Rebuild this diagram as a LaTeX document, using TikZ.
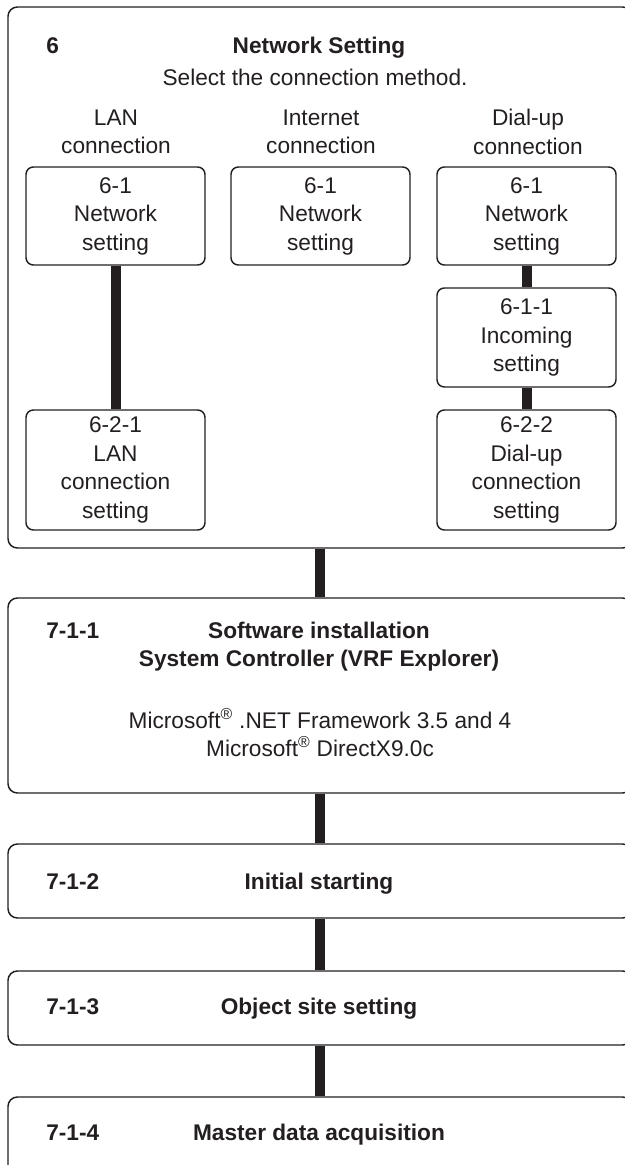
\documentclass[tikz,border=0pt]{standalone}
\usepackage{fontspec}
\setmainfont{Liberation Sans}
\definecolor{ink}{HTML}{231F20}
\begin{document}
\begin{tikzpicture}[x=0.75pt,y=-0.75pt,
  every node/.style={text=ink},
  box/.style={draw=ink, line width=1.1pt, rounded corners=5.5pt, inner sep=0pt, align=center,
    font=\fontsize{17}{21.4}\selectfont},
  bigbox/.style={box, rounded corners=7pt, minimum width=468pt},
  smallbox/.style={box, minimum width=134.25pt},
  conn/.style={draw=ink, line width=7.5pt},
  txt/.style={inner sep=0pt, align=center, font=\fontsize{17}{21.4}\selectfont},
  btxt/.style={inner sep=0pt, align=center, font=\fontsize{17}{21.4}\selectfont\bfseries}]
\useasboundingbox (0,0) rectangle (625,1165);
\clip (0,0) rectangle (625,1165);

% outer network box
\node[bigbox, minimum height=405.75pt] (net) at (320,277.5) {};
\node[btxt, anchor=base west] (n6) at (46,53) {6};
\node[btxt, anchor=base] (ntitle) at (319,53) {Network Setting};
\node[txt, anchor=base] (nsel) at (315,85) {Select the connection method.};
\node[txt] (hlan) at (116,132) {LAN\\connection};
\node[txt] (hinet) at (321,132) {Internet\\connection};
\node[txt] (hdial) at (528,132) {Dial-up\\connection};

% column boxes
\node[smallbox, minimum height=73.5pt] (lan61) at (115.5,216) {6-1\\Network\\setting};
\node[smallbox, minimum height=73.5pt] (inet61) at (320.5,216) {6-1\\Network\\setting};
\node[smallbox, minimum height=73.5pt] (dial61) at (526.5,216) {6-1\\Network\\setting};
\node[smallbox, minimum height=74.25pt] (dial611) at (526.5,337.5) {6-1-1\\Incoming\\setting};
\node[smallbox, minimum height=90pt] (lan621) at (115.5,470) {6-2-1\\LAN\\connection\\setting};
\node[smallbox, minimum height=90pt] (dial622) at (526.5,470) {6-2-2\\Dial-up\\connection\\setting};

% software installation
\node[bigbox, minimum height=146.25pt] (sw) at (320,695.5) {};
\node[btxt, anchor=base west] (sw1) at (46,638) {7-1-1};
\node[btxt, anchor=base] (sw2) at (319,638) {Software installation};
\node[btxt, anchor=base] (sw3) at (319,666) {System Controller (VRF Explorer)};
\node[txt, anchor=base] (sw4) at (320,728) {Microsoft\textsuperscript{®} .NET Framework 3.5 and 4};
\node[txt, anchor=base] (sw5) at (320,756) {Microsoft\textsuperscript{®} DirectX9.0c};

% initial starting
\node[bigbox, minimum height=55.5pt] (init) at (320,881) {};
\node[btxt, anchor=base west] (in1) at (46,889) {7-1-2};
\node[btxt, anchor=base] (in2) at (319,889) {Initial starting};

% object site setting
\node[bigbox, minimum height=55.5pt] (obj) at (320,1008) {};
\node[btxt, anchor=base west] (ob1) at (46,1014) {7-1-3};
\node[btxt, anchor=base] (ob2) at (319,1014) {Object site setting};

% master data acquisition (runs past the lower edge)
\node[bigbox, minimum height=58.5pt] (mast) at (320,1136) {};
\node[btxt, anchor=base west] (ma1) at (46,1140) {7-1-4};
\node[btxt, anchor=base] (ma2) at (319,1140) {Master data acquisition};

% connectors
\draw[conn] (lan61.south) -- (lan621.north);
\draw[conn] (dial61.south) -- (dial611.north);
\draw[conn] (dial611.south) -- (dial622.north);
\draw[conn] (net.south) -- (sw.north);
\draw[conn] (sw.south) -- (init.north);
\draw[conn] (init.south) -- (obj.north);
\draw[conn] (obj.south) -- (mast.north);
\end{tikzpicture}
\end{document}
